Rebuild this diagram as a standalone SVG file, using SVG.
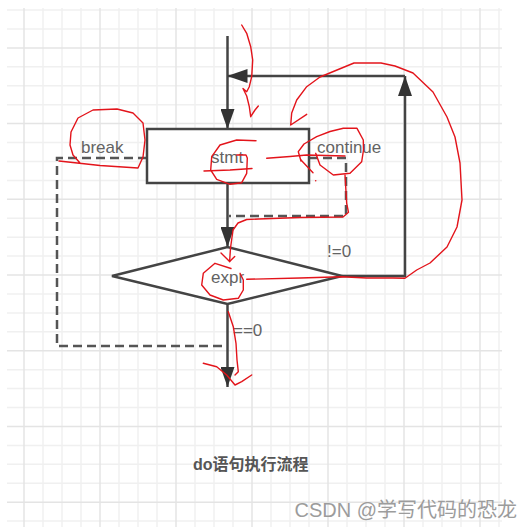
<svg xmlns="http://www.w3.org/2000/svg" width="531" height="527" viewBox="0 0 531 527">
<style>
.gmin{stroke:#f0f0f0;stroke-width:1.5}
.gmaj{stroke:#e4e4e4;stroke-width:1.5}
.shape{fill:#fff;stroke:#444;stroke-width:2.5}
.line{fill:none;stroke:#444;stroke-width:2.5}
.dash{fill:none;stroke:#555;stroke-width:2.5;stroke-dasharray:9 5}
.lbl{font-family:"Liberation Sans",Arial,sans-serif;font-size:17px;fill:#636363}
.title{font-family:"Liberation Sans","Noto Sans CJK SC",sans-serif;font-size:16px;font-weight:bold;fill:#555}
.wm{font-family:"Liberation Sans","Noto Sans CJK SC",sans-serif;font-size:20px;fill:#9c9c9c}
.red{fill:none;stroke:#e3141b;stroke-width:1.4;stroke-linecap:round;stroke-linejoin:round}
</style>
<defs>
<marker id="ah" markerUnits="userSpaceOnUse" markerWidth="20" markerHeight="14" refX="20" refY="7" orient="auto">
<path d="M0,0 L20,7 L0,14 z" fill="#333"/>
</marker>
</defs>
<rect width="531" height="527" fill="#fff"/>
<g id="grid">
<g class="gmin">
<line x1="43" y1="8" x2="43" y2="527"/><line x1="62" y1="8" x2="62" y2="527"/><line x1="81" y1="8" x2="81" y2="527"/>
<line x1="119" y1="8" x2="119" y2="527"/><line x1="138" y1="8" x2="138" y2="527"/><line x1="157" y1="8" x2="157" y2="527"/>
<line x1="195" y1="8" x2="195" y2="527"/><line x1="214" y1="8" x2="214" y2="527"/><line x1="233" y1="8" x2="233" y2="527"/>
<line x1="271" y1="8" x2="271" y2="527"/><line x1="290" y1="8" x2="290" y2="527"/><line x1="309" y1="8" x2="309" y2="527"/>
<line x1="347" y1="8" x2="347" y2="527"/><line x1="366" y1="8" x2="366" y2="527"/><line x1="385" y1="8" x2="385" y2="527"/>
<line x1="423" y1="8" x2="423" y2="527"/><line x1="442" y1="8" x2="442" y2="527"/><line x1="461" y1="8" x2="461" y2="527"/>
<line x1="499" y1="8" x2="499" y2="527"/>
<line x1="7" y1="10" x2="502" y2="10"/><line x1="7" y1="28.9" x2="502" y2="28.9"/><line x1="7" y1="66.8" x2="502" y2="66.8"/>
<line x1="7" y1="85.7" x2="502" y2="85.7"/><line x1="7" y1="104.7" x2="502" y2="104.7"/><line x1="7" y1="142.5" x2="502" y2="142.5"/>
<line x1="7" y1="161.4" x2="502" y2="161.4"/><line x1="7" y1="180.4" x2="502" y2="180.4"/><line x1="7" y1="218.2" x2="502" y2="218.2"/>
<line x1="7" y1="237.2" x2="502" y2="237.2"/><line x1="7" y1="256.1" x2="502" y2="256.1"/><line x1="7" y1="293.9" x2="502" y2="293.9"/>
<line x1="7" y1="312.9" x2="502" y2="312.9"/><line x1="7" y1="331.8" x2="502" y2="331.8"/><line x1="7" y1="369.7" x2="502" y2="369.7"/>
<line x1="7" y1="388.6" x2="502" y2="388.6"/><line x1="7" y1="407.5" x2="502" y2="407.5"/><line x1="7" y1="445.4" x2="502" y2="445.4"/>
<line x1="7" y1="464.3" x2="502" y2="464.3"/><line x1="7" y1="483.3" x2="502" y2="483.3"/><line x1="7" y1="521.1" x2="502" y2="521.1"/>
</g>
<g class="gmaj">
<line x1="24" y1="8" x2="24" y2="527"/><line x1="100" y1="8" x2="100" y2="527"/><line x1="176" y1="8" x2="176" y2="527"/>
<line x1="252" y1="8" x2="252" y2="527"/><line x1="328" y1="8" x2="328" y2="527"/><line x1="404" y1="8" x2="404" y2="527"/>
<line x1="480" y1="8" x2="480" y2="527"/>
<line x1="7" y1="47.9" x2="502" y2="47.9"/><line x1="7" y1="123.6" x2="502" y2="123.6"/><line x1="7" y1="199.3" x2="502" y2="199.3"/>
<line x1="7" y1="275" x2="502" y2="275"/><line x1="7" y1="350.7" x2="502" y2="350.7"/><line x1="7" y1="426.5" x2="502" y2="426.5"/>
<line x1="7" y1="502.2" x2="502" y2="502.2"/>
</g>
</g>
<g id="connectors">
<path class="line" d="M227.5,36 V129" marker-end="url(#ah)"/>
<path class="line" d="M342,276 H405 V76" marker-end="url(#ah)"/>
<path class="line" d="M405,76 H227.5" marker-end="url(#ah)"/>
<path class="line" d="M227.5,184 V247" marker-end="url(#ah)"/>
<path class="line" d="M227.5,304 V387" marker-end="url(#ah)"/>
<path class="dash" d="M147,158 H57 V346 H227"/>
<path class="dash" d="M309,158 H346 V216 H229"/>
</g>
<g id="node-stmt">
<rect class="shape" x="147" y="129" width="162" height="54"/>
<text class="lbl" x="211" y="163">stmt</text>
</g>
<g id="node-expr">
<polygon class="shape" points="112,276 227.5,247 342,276 227.5,304"/>
<text class="lbl" x="211" y="283">expr</text>
</g>
<g id="labels">
<text class="lbl" x="81" y="153">break</text>
<text class="lbl" x="317" y="153">continue</text>
<text class="lbl" x="327" y="257">!=0</text>
<text class="lbl" x="233" y="336">==0</text>
<text class="title" x="193" y="470">do语句执行流程</text>
<text class="wm" x="517" y="517" text-anchor="end">CSDN @学写代码的恐龙</text>
</g>
<g id="annotations">
<polyline class="red" points="241.7,25 246.7,33.3 250.7,46.7 252.7,60 251.7,76.7 249.3,86.7 246.7,91.7 243,88.5 246.7,96 249.3,106.7 250.7,116.7 255,110 258.3,106"/>
<polyline class="red" points="246.7,279.3 300,278 342,276.7 366.7,278 393,278 405,278.3 416.7,270 430,263 447,247 457,227 462,200 460,163 455,137 447,117 433,92 413,73 395,66 381,63 354,63 320,77 306.7,86.7 296.7,100 291.7,113 290.7,125 306.7,114.3"/>
<polyline class="red" points="59,161 100,165.5 138,168 143,157 145,140 143,123 133,113 117,109 93,110 78,118 71,132 70,145 73,155 80,163"/>
<polyline class="red" points="256,140.7 236.7,140 220,145 211.7,156.7 210.7,170 216.7,179.3 230,184.3 241.7,182.7 246.7,173.3 247.3,158 246,155 236.7,155"/>
<polyline class="red" points="204,171 230,170 252,168.5"/>
<polyline class="red" points="266.7,158.3 290,156.5 306.7,155 345,156"/>
<polyline class="red" points="301,161 298.3,151.7 304,144 316.7,136.7 330,131.5 343.3,128.3 357,128.3 363.3,140 363.5,150 361.7,161.7 350,173.3 333.3,175 320,165 315.7,153.3"/>
<polyline class="red" points="301,160 313,172.8"/>
<polyline class="red" points="345,175 346.7,203.3 348.5,212.3 343,217 300,217.5 258.5,219 246.7,219.5 238,223 233,230 230.5,248 229.6,261.6"/>
<polyline class="red" points="221,253 229.6,261.6 234.7,256.5"/>
<polyline class="red" points="231,268.5 215,263.3 203.3,273.3 201.7,285 210,295 223.3,300 238.3,298.3 243.3,290 243.3,280 240,273.3"/>
<polyline class="red" points="228.3,311.7 233.3,326.7 236,343.3 237,360 238.3,371.7 235,375"/>
<polyline class="red" points="203.3,363.3 216.7,366.7 226.7,375 235,385 241.7,381.7 251.7,375"/>
<circle cx="315.7" cy="180.7" r="0.8" fill="#e3141b"/>
</g>
</svg>
